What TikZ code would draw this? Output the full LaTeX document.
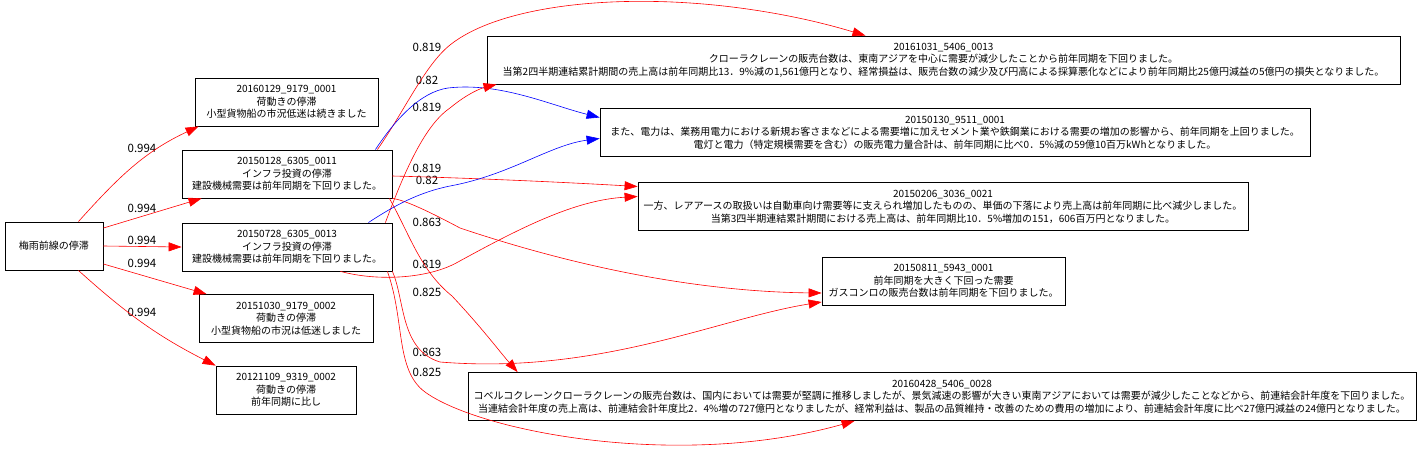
\documentclass[tikz,border=0pt]{standalone}
\usepackage{fontspec}
\setmainfont{Noto Sans CJK JP}
\usepackage{tikz}
\usetikzlibrary{arrows.meta}
\definecolor{ered}{rgb}{1,0,0}
\definecolor{eblue}{rgb}{0,0,1}
\tikzset{
  doc/.style={draw,line width=0.8pt,align=center,inner sep=2pt,minimum height=48pt,
    font=\fontsize{10}{12.5}\selectfont},
  rel/.style={ered,line width=0.6pt,-{Triangle[length=13pt,width=9pt]}},
  relb/.style={rel,eblue},
  wt/.style={font=\fontsize{11.5}{13}\selectfont}
}

\begin{document}
\begin{tikzpicture}[x=1pt,y=-1pt]
\useasboundingbox (0,0) rectangle (1421,455);

\node[doc,minimum width=98pt] (rain) at (54,246) {梅雨前線の停滞};

\node[doc,minimum width=183pt] (n0129) at (286.5,102) {20160129\_9179\_0001\\荷動きの停滞\\小型貨物船の市況低迷は続きました};
\node[doc,minimum width=210pt] (n0128) at (287,174) {20150128\_6305\_0011\\インフラ投資の停滞\\建設機械需要は前年同期を下回りました。};
\node[doc,minimum width=210pt] (n0728) at (287,247) {20150728\_6305\_0013\\インフラ投資の停滞\\建設機械需要は前年同期を下回りました。};
\node[doc,minimum width=174pt] (n1030) at (286,318.5) {20151030\_9179\_0002\\荷動きの停滞\\小型貨物船の市況は低迷しました};
\node[doc,minimum width=140pt] (n1109) at (286,390) {20121109\_9319\_0002\\荷動きの停滞\\前年同期に比し};

\node[doc,minimum width=913pt] (n1031) at (943.5,60) {20161031\_5406\_0013\\クローラクレーンの販売台数は、東南アジアを中心に需要が減少したことから前年同期を下回りました。\\当第2四半期連結累計期間の売上高は前年同期比13．9\%減の1,561億円となり、経常損益は、販売台数の減少及び円高による採算悪化などにより前年同期比25億円減益の5億円の損失となりました。};
\node[doc,minimum width=710pt] (n0130) at (955,132.5) {20150130\_9511\_0001\\また、電力は、業務用電力における新規お客さまなどによる需要増に加えセメント業や鉄鋼業における需要の増加の影響から、前年同期を上回りました。\\電灯と電力（特定規模需要を含む）の販売電力量合計は、前年同期に比べ0．5\%減の59億10百万kWhとなりました。};
\node[doc,minimum width=610pt] (n0206) at (943,206.5) {20150206\_3036\_0021\\一方、レアアースの取扱いは自動車向け需要等に支えられ増加したものの、単価の下落により売上高は前年同期に比べ減少しました。\\当第3四半期連結累計期間における売上高は、前年同期比10．5\%増加の151，606百万円となりました。};
\node[doc,minimum width=243pt] (n0811) at (943.5,281) {20150811\_5943\_0001\\前年同期を大きく下回った需要\\ガスコンロの販売台数は前年同期を下回りました。};
\node[doc,minimum width=948pt] (n0428) at (942,396.5) {20160428\_5406\_0028\\コベルコクレーンクローラクレーンの販売台数は、国内においては需要が堅調に推移しましたが、景気減速の影響が大きい東南アジアにおいては需要が減少したことなどから、前連結会計年度を下回りました。\\当連結会計年度の売上高は、前連結会計年度比2．4\%増の727億円となりましたが、経常利益は、製品の品質維持・改善のための費用の増加により、前連結会計年度に比べ27億円減益の24億円となりました。};

% weights
\foreach \y in {148,208,240,263,312} {
    \node[wt] (w\y) at (142,\y) {0.994};
}
\foreach \y/\w in {47/0.819,80/0.82,107/0.819,168/0.819,180/0.82,222/0.863,264/0.819,292/0.825,352/0.863,372/0.825} {
    \node[wt] (m\y) at (427,\y) {\w};
}

% from the root
\draw[rel] (rain.45) to[out=48,in=205] ([xshift=4pt]n0129.south west);
\draw[rel] (rain.20) -- ([xshift=20pt]n0128.south west);
\draw[rel] (rain.east) -- (n0728.west);
\draw[rel] (rain.-20) -- ([xshift=8pt]n1030.north west);
\draw[rel] (rain.-45) to[out=-42,in=153] (n1109.north west);

% from 20150128
\draw[rel] ([xshift=-15pt]n0128.north east) .. controls (405,110) and (425,65) .. (450,45)
    .. controls (500,5) and (620,-8) .. (740,8) .. controls (800,16) and (840,28) .. ([xshift=-78pt]n1031.north);
\draw[relb] ([xshift=-17pt]n0128.north east) .. controls (395,120) and (420,92) .. (448,88)
    .. controls (500,82) and (550,105) .. ([yshift=15pt]n0130.west);
\draw[rel] ([yshift=-2pt]n0128.east) .. controls (470,178) and (560,182) .. ([yshift=20pt]n0206.west);
\draw[rel] (n0128.south east) .. controls (405,200) and (430,212) .. (460,228)
    .. controls (600,275) and (720,292) .. ([yshift=-12pt]n0811.west);
\draw[rel] ([xshift=-3pt]n0128.south east) .. controls (410,235) and (420,270) .. (452,296)
    .. controls (482,328) and (500,352) .. ([xshift=50pt]n0428.north west);

% from 20150728
\draw[rel] ([xshift=-7pt]n0728.north east) .. controls (405,170) and (425,125) .. (450,108)
    .. controls (468,93) and (482,88) .. ([xshift=10pt]n1031.south west);
\draw[relb] ([xshift=-24pt]n0728.north east) .. controls (395,205) and (420,192) .. (450,186)
    .. controls (510,175) and (550,145) .. ([yshift=-6pt]n0130.west);
\draw[rel] ([xshift=-52pt]n0728.south east) .. controls (380,282) and (430,278) .. (458,262)
    .. controls (520,228) and (575,200) .. ([yshift=10pt]n0206.west);
\draw[rel] (n0728.south east) .. controls (405,300) and (400,350) .. (440,362)
    .. controls (600,375) and (720,318) .. ([yshift=-21pt]n0811.west);
\draw[rel] ([xshift=-5pt]n0728.south east) .. controls (405,320) and (395,370) .. (425,392)
    .. controls (480,432) and (680,470) .. ([xshift=387pt]n0428.south west);
\end{tikzpicture}
\end{document}
